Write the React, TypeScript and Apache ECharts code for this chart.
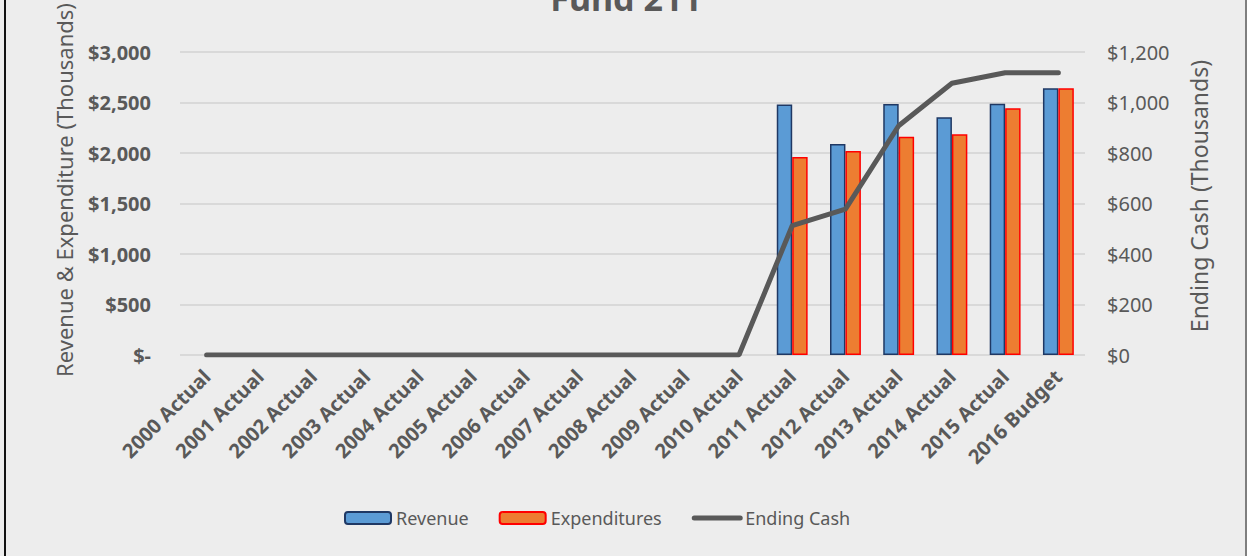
import React, { useEffect, useRef } from "react";
import * as echarts from "echarts";

const categories = [
  "2000 Actual", "2001 Actual", "2002 Actual", "2003 Actual", "2004 Actual",
  "2005 Actual", "2006 Actual", "2007 Actual", "2008 Actual", "2009 Actual",
  "2010 Actual", "2011 Actual", "2012 Actual", "2013 Actual", "2014 Actual",
  "2015 Actual", "2016 Budget",
];
const revenue = [null, null, null, null, null, null, null, null, null, null, null, 2480, 2090, 2485, 2355, 2488, 2640];
const expenditures = [null, null, null, null, null, null, null, null, null, null, null, 1960, 2020, 2160, 2185, 2442, 2640];
const endingCash = [0, 0, 0, 0, 0, 0, 0, 0, 0, 0, 0, 512, 578, 908, 1076, 1118, 1118];

const FONT = "Noto Sans";
const TXT = "#595959";

function fmt(v: number) {
  return v.toLocaleString("en-US");
}

export default function App() {
  const ref = useRef<HTMLDivElement>(null);
  useEffect(() => {
    if (!ref.current) return;
    const chart = echarts.init(ref.current, undefined, { renderer: "svg" });
    chart.setOption({
      animation: false,
      backgroundColor: "#ededed",
      textStyle: { fontFamily: FONT, color: TXT },
      graphic: [
        {
          type: "text",
          x: 626,
          y: 15,
          style: {
            text: "Fund 211",
            fontFamily: FONT,
            fontSize: 34,
            fontWeight: "bold",
            fill: TXT,
            align: "center",
            verticalAlign: "bottom",
          },
        },
        {
          type: "text",
          x: 64,
          y: 190,
          rotation: Math.PI / 2,
          style: {
            text: "Revenue & Expenditure (Thousands)",
            fontFamily: FONT,
            fontSize: 22,
            fill: TXT,
            align: "center",
            verticalAlign: "middle",
          },
        },
        {
          type: "text",
          x: 1199,
          y: 196,
          rotation: Math.PI / 2,
          style: {
            text: "Ending Cash (Thousands)",
            fontFamily: FONT,
            fontSize: 23,
            fill: TXT,
            align: "center",
            verticalAlign: "middle",
          },
        },
        { type: "rect", shape: { x: 4, y: 0, width: 2, height: 556 }, style: { fill: "#111" } },
        { type: "rect", shape: { x: 1245, y: 0, width: 2, height: 556 }, style: { fill: "#7f7f7f" } },
      ],
      grid: { left: 180, right: 162, top: 52, bottom: 201 },
      legend: {
        bottom: 24,
        left: 339,
        itemWidth: 46,
        itemHeight: 12,
        itemGap: 30,
        textStyle: { fontFamily: FONT, fontSize: 18, color: TXT },
        data: [
          "Revenue",
          "Expenditures",
          { name: "Ending Cash", itemStyle: { opacity: 0 }, lineStyle: { width: 5, color: "#595959" } },
        ],
      },
      xAxis: {
        type: "category",
        data: categories,
        axisLine: { show: false },
        axisTick: { show: false },
        axisLabel: {
          rotate: 45,
          interval: 0,
          margin: 18,
          fontFamily: FONT,
          fontSize: 20,
          fontWeight: "bold",
          color: TXT,
        },
      },
      yAxis: [
        {
          type: "value",
          min: 0,
          max: 3000,
          interval: 500,
          axisLabel: {
            fontFamily: FONT,
            fontSize: 20,
            fontWeight: "bold",
            color: TXT,
            margin: 29,
            formatter: (v: number) => (v === 0 ? "$-" : "$" + fmt(v)),
          },
          splitLine: { lineStyle: { color: "#d9d9d9", width: 2 } },
        },
        {
          type: "value",
          min: 0,
          max: 1200,
          interval: 200,
          axisLabel: {
            fontFamily: FONT,
            fontSize: 20,
            color: TXT,
            margin: 22,
            formatter: (v: number) => "$" + fmt(v),
          },
          splitLine: { show: false },
        },
      ],
      series: [
        {
          name: "Revenue",
          type: "bar",
          data: revenue,
          barWidth: "29%",
          barGap: "0%",
          itemStyle: { color: "#5b9bd5", borderColor: "#1f3864", borderWidth: 1.5 },
        },
        {
          name: "Expenditures",
          type: "bar",
          data: expenditures,
          barWidth: "29%",
          barGap: "0%",
          itemStyle: { color: "#ed7d31", borderColor: "#ff0000", borderWidth: 1.5 },
        },
        {
          name: "Ending Cash",
          type: "line",
          yAxisIndex: 1,
          data: endingCash,
          symbol: "none",
          z: 5,
          lineStyle: { color: "#595959", width: 5, cap: "round" },
          itemStyle: { color: "#595959" },
        },
      ],
    });
    return () => chart.dispose();
  }, []);
  return (
    <div
      ref={ref}
      style={{ position: "absolute", left: 0, top: 0, width: 1247, height: 556 }}
    />
  );
}
